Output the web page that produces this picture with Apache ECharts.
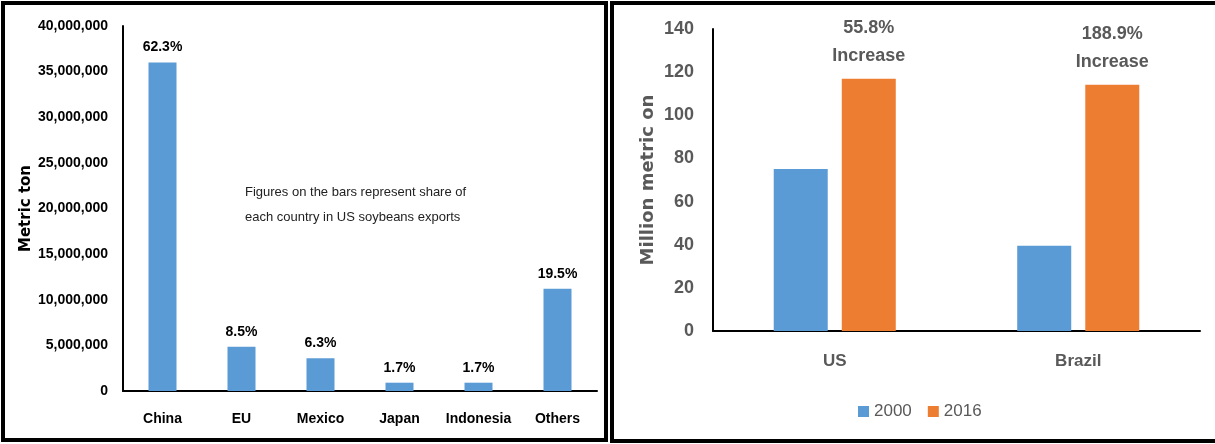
<!DOCTYPE html>
<html>
<head>
<meta charset="utf-8">
<script src="https://cdn.jsdelivr.net/npm/echarts@6/dist/echarts.min.js"></script>
<style>
html,body{margin:0;padding:0;background:#fff;}
#c{width:1215px;height:444px;}
</style>
</head>
<body>
<div id="c"></div>
<script>
// ---- Left chart data ----
const leftCategories = ['China', 'EU', 'Mexico', 'Japan', 'Indonesia', 'Others'];
const leftValues = [36000000, 4850000, 3580000, 910000, 910000, 11200000];
const leftShares = ['62.3%', '8.5%', '6.3%', '1.7%', '1.7%', '19.5%'];
const leftAxisName = 'Metric ton';
const leftNote = ['Figures on the bars represent share of', 'each country in US soybeans exports'];

// ---- Right chart data ----
const rightCategories = ['US', 'Brazil'];
const seriesNames = ['2000', '2016'];
const values2000 = [75.1, 39.5];
const values2016 = [116.9, 114.1];
const increaseLabels = ['55.8%', '188.9%'];
const rightAxisName = 'Million metric on';

const sans = "'Liberation Sans', Arial, sans-serif";
const gray = '#595959';

const chart = echarts.init(document.getElementById('c'), null, {renderer: 'canvas'});

function commas(v) {
  return String(v).replace(/\B(?=(\d{3})+(?!\d))/g, ',');
}

const option = {
  animation: false,
  backgroundColor: '#fff',
  grid: [
    {left: 123, right: 618, top: 26, bottom: 53},
    {left: 713, right: 15, top: 29, bottom: 113}
  ],
  legend: {
    data: seriesNames,
    left: 853,
    top: 398,
    icon: 'rect',
    itemWidth: 11,
    itemHeight: 11,
    itemGap: 16,
    textStyle: {color: gray, fontSize: 17, fontFamily: sans}
  },
  xAxis: [
    {
      type: 'category', gridIndex: 0, data: leftCategories,
      axisLine: {lineStyle: {color: '#000', width: 2}},
      axisTick: {show: false},
      axisLabel: {interval: 0, color: '#000', fontSize: 14, fontWeight: 'bold', fontFamily: sans, margin: 21}
    },
    {
      type: 'category', gridIndex: 1, data: rightCategories,
      axisLine: {lineStyle: {color: '#000', width: 2}},
      axisTick: {show: false},
      axisLabel: {interval: 0, color: gray, fontSize: 17, fontWeight: 'bold', fontFamily: sans, margin: 22}
    }
  ],
  yAxis: [
    {
      type: 'value', gridIndex: 0, min: 0, max: 40000000, interval: 5000000,
      name: leftAxisName, nameLocation: 'middle', nameGap: 84,
      nameTextStyle: {color: '#000', fontSize: 15, fontWeight: 'bold', fontFamily: "'DejaVu Sans', sans-serif"},
      axisLine: {show: true, lineStyle: {color: '#000', width: 2}},
      axisTick: {show: false},
      splitLine: {show: false},
      axisLabel: {color: '#000', fontSize: 14, fontWeight: 'bold', fontFamily: sans, margin: 15, formatter: commas}
    },
    {
      type: 'value', gridIndex: 1, min: 0, max: 140, interval: 20,
      name: rightAxisName, nameLocation: 'middle', nameGap: 56,
      nameTextStyle: {color: gray, fontSize: 18, fontWeight: 'bold', fontFamily: "'DejaVu Sans', sans-serif"},
      axisLine: {show: true, lineStyle: {color: '#000', width: 2}},
      axisTick: {show: false},
      splitLine: {show: false},
      axisLabel: {color: gray, fontSize: 18, fontWeight: 'bold', fontFamily: sans, margin: 19}
    }
  ],
  series: [
    {
      type: 'bar', xAxisIndex: 0, yAxisIndex: 0, data: leftValues,
      barWidth: 28,
      itemStyle: {color: '#5B9BD5'},
      label: {
        show: true, position: 'top', distance: 8,
        color: '#000', fontSize: 14, fontWeight: 'bold', fontFamily: sans,
        formatter: p => leftShares[p.dataIndex]
      }
    },
    {
      name: seriesNames[0], type: 'bar', xAxisIndex: 1, yAxisIndex: 1, data: values2000,
      barWidth: 54, barGap: '26%',
      itemStyle: {color: '#5B9BD5'}
    },
    {
      name: seriesNames[1], type: 'bar', xAxisIndex: 1, yAxisIndex: 1, data: values2016,
      barWidth: 54, barGap: '26%',
      itemStyle: {color: '#ED7D31'},
      label: {
        show: true, position: 'top', distance: 9,
        color: gray, fontSize: 18, fontWeight: 'bold', fontFamily: sans, lineHeight: 28,
        formatter: p => increaseLabels[p.dataIndex] + '\nIncrease'
      }
    }
  ],
  graphic: [
    {type: 'rect', shape: {x: 3, y: 3, width: 603, height: 437}, style: {fill: null, stroke: '#000', lineWidth: 4}, z: 100},
    {type: 'rect', shape: {x: 612, y: 3, width: 610, height: 438}, style: {fill: null, stroke: '#000', lineWidth: 4}, z: 100},
    {type: 'text', left: 245, top: 180, style: {text: leftNote.join('\n'), fill: '#222', font: "13px " + sans, lineHeight: 25}}
  ]
};
chart.setOption(option);
</script>
</body>
</html>
